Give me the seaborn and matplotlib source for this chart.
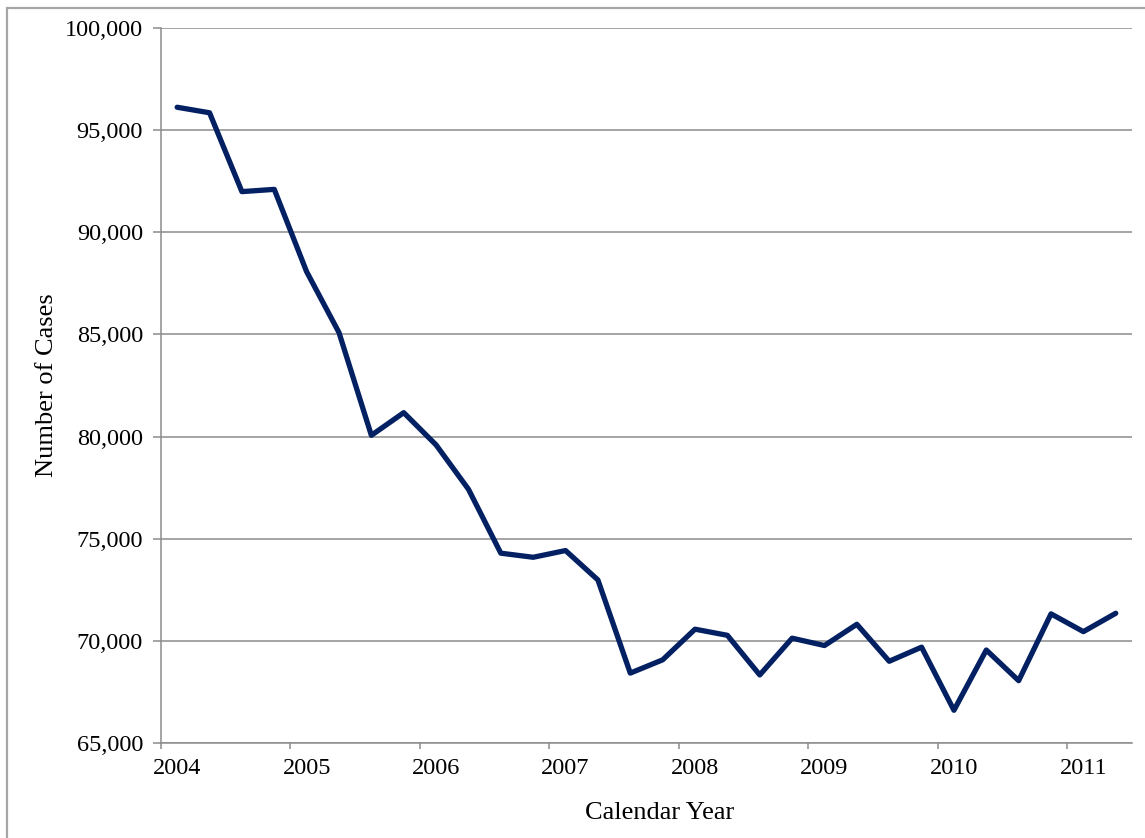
import pandas as pd
import seaborn as sns
import matplotlib.pyplot as plt
from matplotlib.ticker import FuncFormatter
from matplotlib.patches import Rectangle

# quarterly counts, 2004 Q1 - 2011 Q2
quarter = ["2004Q1", "2004Q2", "2004Q3", "2004Q4",
           "2005Q1", "2005Q2", "2005Q3", "2005Q4",
           "2006Q1", "2006Q2", "2006Q3", "2006Q4",
           "2007Q1", "2007Q2", "2007Q3", "2007Q4",
           "2008Q1", "2008Q2", "2008Q3", "2008Q4",
           "2009Q1", "2009Q2", "2009Q3", "2009Q4",
           "2010Q1", "2010Q2", "2010Q3", "2010Q4",
           "2011Q1", "2011Q2"]
cases = [96120, 95850, 91990, 92100,
         88070, 85090, 80060, 81170,
         79590, 77420, 74290, 74090,
         74420, 72980, 68420, 69070,
         70570, 70270, 68330, 70130,
         69770, 70810, 69000, 69690,
         66600, 69550, 68050, 71320,
         70450, 71350]
year_ticks = [2004, 2005, 2006, 2007, 2008, 2009, 2010, 2011]

df = pd.DataFrame({"quarter": quarter, "cases": cases})
# place each quarter at its midpoint within the year
df["x"] = df["quarter"].str[:4].astype(int) + (df["quarter"].str[-1].astype(int) - 0.5) / 4

sns.set_theme(style="white")
plt.rcParams['font.family'] = ['Liberation Serif', 'DejaVu Serif']

fig = plt.figure(figsize=(11.45, 8.38), dpi=100)
ax = fig.add_axes([0.1406, 0.1134, 0.848, 0.8532])

sns.lineplot(x="x", y="cases", data=df, color="#022062", linewidth=3.8, ax=ax)

ax.set_xlim(2004, 2011.5)
ax.set_ylim(65000, 100000)
# tick marks on year boundaries, labels sit on the Q1 point of each year
ax.set_xticks(year_ticks)
ax.set_xticklabels([])
ax.set_xticks([y + 0.125 for y in year_ticks], minor=True)
ax.set_xticklabels([str(y) for y in year_ticks], minor=True)
ax.set_yticks(range(65000, 100001, 5000))
ax.yaxis.set_major_formatter(FuncFormatter(lambda v, p: "{:,.0f}".format(v)))
ax.grid(axis="y", color="#8c8c8c", linewidth=1.1)
ax.set_axisbelow(True)

for s in ["top", "right"]:
    ax.spines[s].set_visible(False)
for s in ["left", "bottom"]:
    ax.spines[s].set_color("#8c8c8c")
    ax.spines[s].set_linewidth(1.1)

ax.tick_params(axis="both", which="major", direction="out", length=6, width=1.1,
               color="#8c8c8c", labelsize=17.5, labelcolor="black", pad=7)
ax.tick_params(axis="x", which="major", bottom=True, length=4)
ax.tick_params(axis="x", which="minor", bottom=True, length=0, labelsize=17.5,
               labelcolor="black", pad=11)
ax.tick_params(axis="y", left=True)

ax.set_xlabel("Calendar Year", fontsize=19, color="black")
ax.xaxis.set_label_coords(0.514, -0.082)
ax.set_ylabel("Number of Cases", fontsize=19, color="black", labelpad=5)

# outer chart frame
fig.patches.append(Rectangle((7 / 1145, -0.1), 2, 1.1 - 8 / 838, transform=fig.transFigure,
                             fill=False, edgecolor="#a6a6a6", linewidth=1.6))

fig.savefig("out.png", dpi=100)
